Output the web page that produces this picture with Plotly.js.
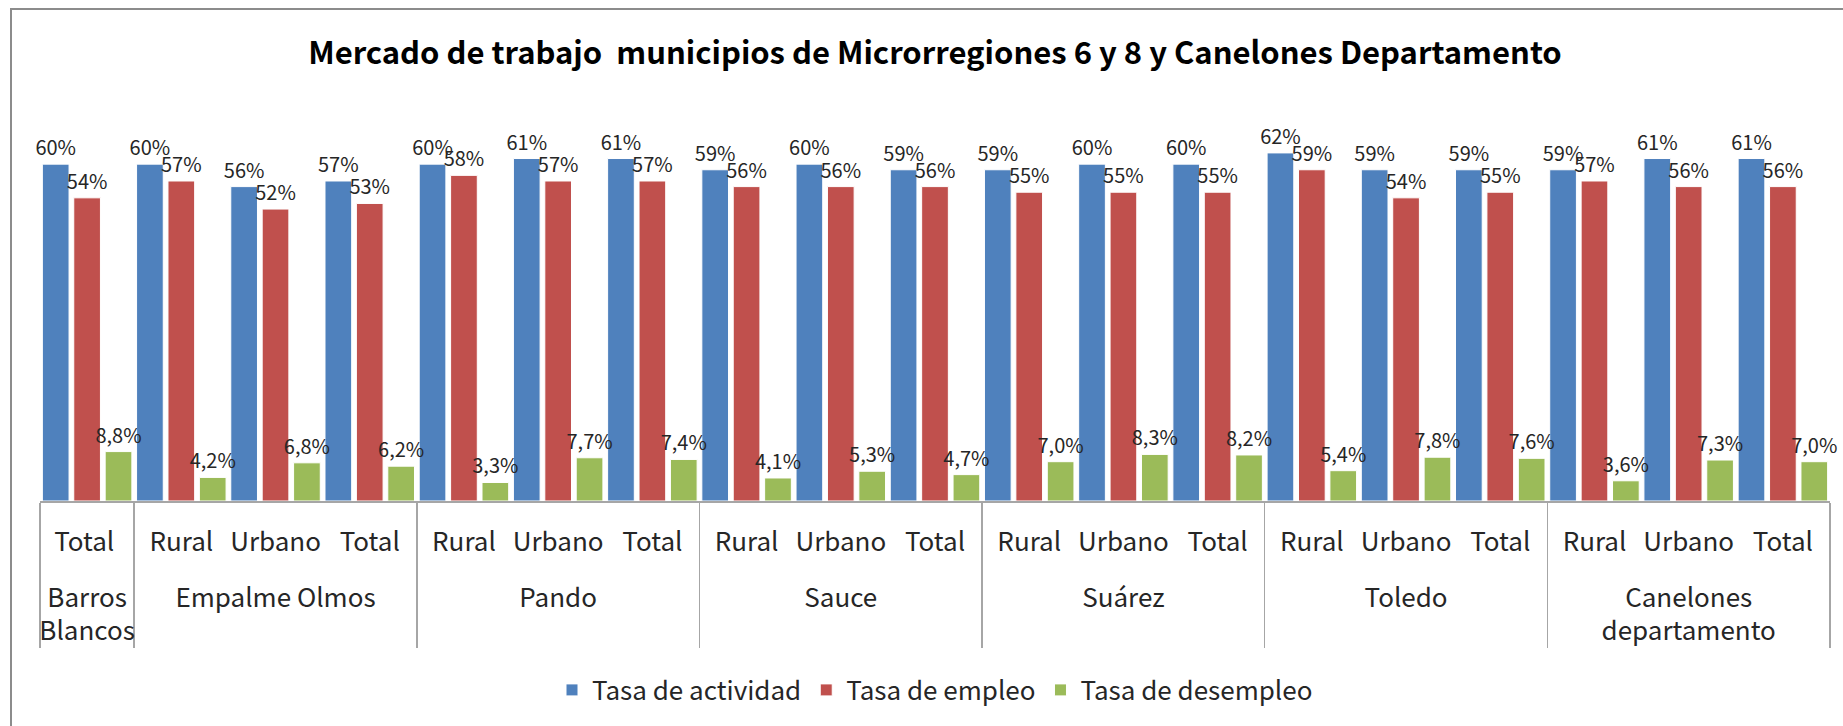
<!DOCTYPE html>
<html>
<head>
<meta charset="utf-8">
<script src="https://cdn.plot.ly/plotly-3.0.1.min.js"></script>
<style>
  html, body { margin: 0; padding: 0; overflow: hidden; background: #fff; }
  #chart { width: 1843px; height: 726px; }
  /* chart frame: only left and top edges fall inside the picture */
  #frame { position: absolute; left: 10px; top: 8px; width: 1900px; height: 800px;
           border: 2px solid #8c8c8c; pointer-events: none; }
</style>
</head>
<body>
<div id="chart"></div>
<div id="frame"></div>
<script>
// municipios and the areas shown for each one
const municipios = ['Barros<br>Blancos', 'Empalme Olmos', 'Pando', 'Sauce', 'Suárez', 'Toledo', 'Canelones<br>departamento'];
const areas = [
    ['Total'],
    ['Rural', 'Urbano', 'Total'],
    ['Rural', 'Urbano', 'Total'],
    ['Rural', 'Urbano', 'Total'],
    ['Rural', 'Urbano', 'Total'],
    ['Rural', 'Urbano', 'Total'],
    ['Rural', 'Urbano', 'Total']
];

// values in %, same order as municipios / areas
const tasaActividad = [60, 60, 56, 57, 60, 61, 61, 59, 60, 59, 59, 60, 60, 62, 59, 59, 59, 61, 61];
const tasaEmpleo = [54, 57, 52, 53, 58, 57, 57, 56, 56, 56, 55, 55, 55, 59, 54, 55, 57, 56, 56];
const tasaDesempleo = [8.8, 4.2, 6.8, 6.2, 3.3, 7.7, 7.4, 4.1, 5.3, 4.7, 7.0, 8.3, 8.2, 5.4, 7.8, 7.6, 3.6, 7.3, 7.0];

const FONT = '"Noto Sans CJK KR", "Noto Sans", sans-serif';
const TEXT_COLOR = '#262626';

// two-level category axis
// plotly orders the second level by first appearance, so the lone
// "Total" of the first municipio gets its own key (trailing space is not drawn)
// the empty first line pushes the municipio row further down
const groupLevel = [];
const areaLevel = [];
municipios.forEach(function(m, i) {
    areas[i].forEach(function(a) {
        groupLevel.push('<br>' + m);
        areaLevel.push(areas[i].length === 1 ? a + ' ' : a);
    });
});
const x = [groupLevel, areaLevel];

function barTrace(name, values, color, fmt) {
    return {
        type: 'bar',
        name: name,
        x: x,
        y: values,
        marker: { color: color, line: { color: '#ffffff', width: 1 } },
        texttemplate: fmt,
        textposition: 'outside',
        constraintext: 'none',
        cliponaxis: false,
        textfont: { family: FONT, size: 20, color: TEXT_COLOR },
        hoverinfo: 'none'
    };
}

const data = [
    barTrace('Tasa de actividad', tasaActividad, '#4F81BD', '%{y:.0f}%'),
    barTrace('Tasa de empleo', tasaEmpleo, '#C0504D', '%{y:.0f}%'),
    barTrace('Tasa de desempleo', tasaDesempleo, '#9BBB59', '%{y:.1f}%')
];

const layout = {
    width: 1843,
    height: 726,
    margin: { l: 40, r: 13, t: 108, b: 225 },
    paper_bgcolor: '#ffffff',
    plot_bgcolor: '#ffffff',
    separators: ',.',
    barmode: 'group',
    bargap: 0,
    bargroupgap: 0.15,
    font: { family: FONT, color: TEXT_COLOR },
    title: {
        text: 'Mercado de trabajo  municipios de Microrregiones 6 y 8 y Canelones Departamento',
        font: { family: FONT, size: 31, weight: 700, color: '#000000' },
        x: 0.5, xref: 'paper', xanchor: 'center',
        y: 1 - 53 / 726, yref: 'container', yanchor: 'middle'
    },
    xaxis: {
        type: 'multicategory',
        tickangle: 0,
        ticklabelstandoff: 17,
        showline: true,
        linecolor: '#a6a6a6',
        linewidth: 1.5,
        ticks: '',
        showgrid: false,
        showdividers: true,
        dividercolor: '#a6a6a6',
        dividerwidth: 1.5,
        tickfont: { family: FONT, size: 26, color: TEXT_COLOR }
    },
    yaxis: {
        range: [0, 70],
        showgrid: false,
        zeroline: false,
        showticklabels: false,
        ticks: ''
    },
    showlegend: true,
    legend: {
        orientation: 'h',
        x: 0.5, xref: 'paper', xanchor: 'center',
        y: 1 - 690 / 726, yref: 'container', yanchor: 'middle',
        font: { family: FONT, size: 26, color: TEXT_COLOR },
        traceorder: 'normal'
    }
};

Plotly.newPlot('chart', data, layout, { staticPlot: true });
</script>
</body>
</html>
